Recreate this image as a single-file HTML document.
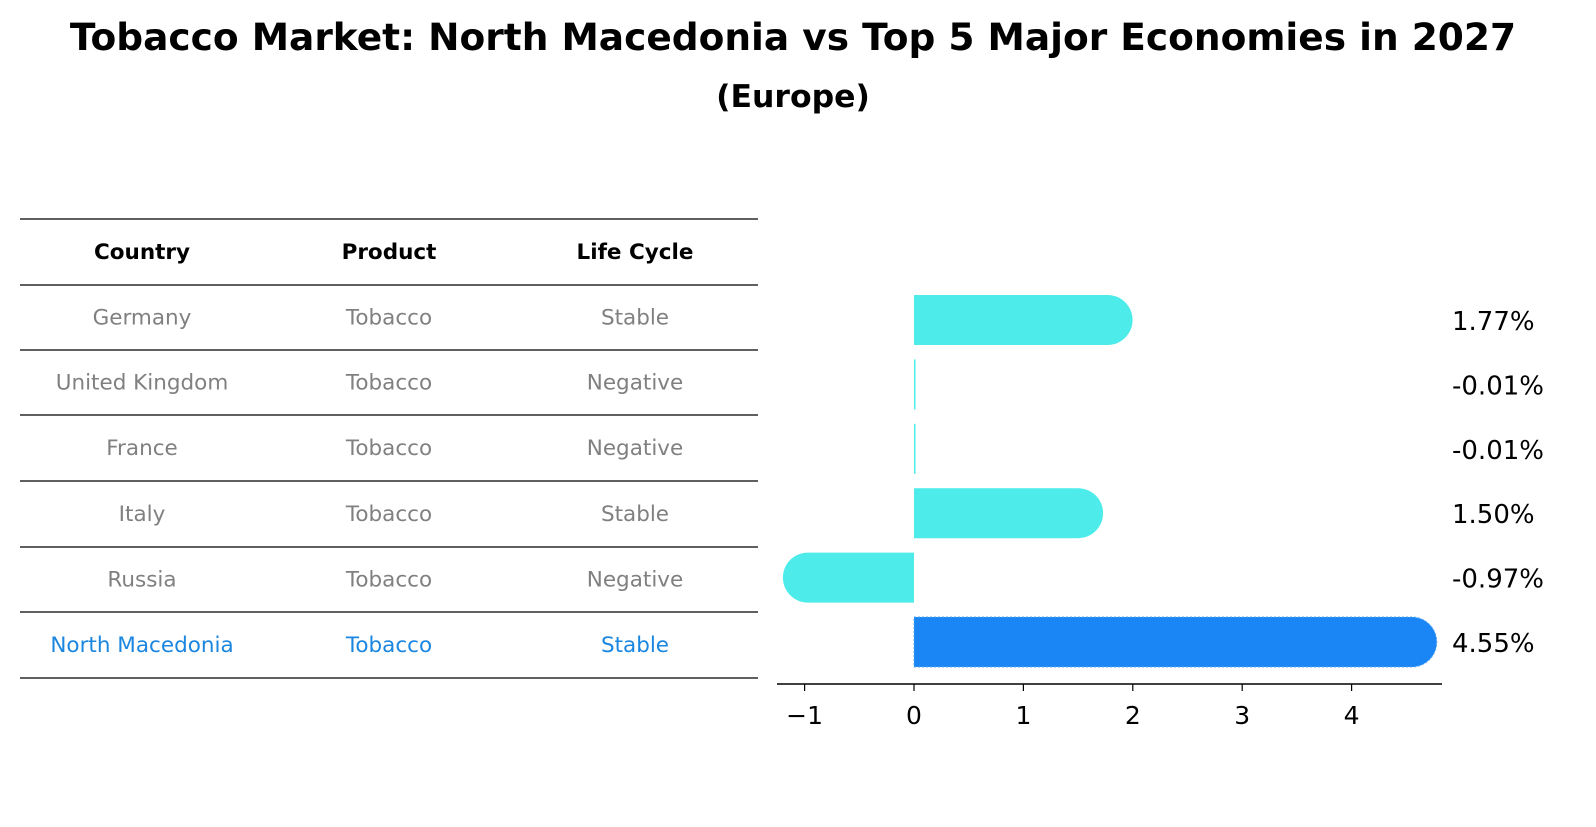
<!DOCTYPE html>
<html><head><meta charset="utf-8"><style>
body{margin:0;background:#fff;font-family:"DejaVu Sans","Liberation Sans",sans-serif}
</style></head><body>
<svg width="1596" height="823" xmlns="http://www.w3.org/2000/svg" font-family="DejaVu Sans, Liberation Sans, sans-serif">
<text x="793" y="50" text-anchor="middle" font-size="37.5" font-weight="bold">Tobacco Market: North Macedonia vs Top 5 Major Economies in 2027</text>
<text x="793" y="107" text-anchor="middle" font-size="31.5" font-weight="bold">(Europe)</text>
<g id="table"></g>
<g id="bars"></g>
</svg>
<script>
const countries=["Germany","United Kingdom","France","Italy","Russia","North Macedonia"];
const products=["Tobacco","Tobacco","Tobacco","Tobacco","Tobacco","Tobacco"];
const lifecycle=["Stable","Negative","Negative","Stable","Negative","Stable"];
const values=[1.77,-0.01,-0.01,1.50,-0.97,4.55];
const ticks=[-1,0,1,2,3,4];
const NS="http://www.w3.org/2000/svg";
function mk(t,a,p){const e=document.createElementNS(NS,t);for(const k in a)e.setAttribute(k,a[k]);p.appendChild(e);return e;}
const tbl=document.getElementById('table');
const lineYs=[219,285,350,415,481,547,612,678];
lineYs.forEach((y,i)=>{const l=mk('line',{x1:20,x2:758,y1:y,y2:y,stroke:'#000','stroke-width':1.2},tbl);

});
const colX=[142,389,635];
["Country","Product","Life Cycle"].forEach((h,i)=>{const t=mk('text',{x:colX[i],y:259,'text-anchor':'middle','font-size':21.5,'font-weight':'bold'},tbl);t.textContent=h;

});
countries.forEach((c,r)=>{const y=(lineYs[r+1]+lineYs[r+2])/2+7;const col=r===5?'#1a86e0':'#808080';
[c,products[r],lifecycle[r]].forEach((v,i)=>{const t=mk('text',{x:colX[i],y:y,'text-anchor':'middle','font-size':21.5,fill:col},tbl);t.textContent=v;

});});
const g=document.getElementById('bars');
const x0=914,unit=109.4;const xs=v=>x0+v*unit;
const rowY=r=>320+r*64.4;const h=50,rad=25;
values.forEach((v,r)=>{const cy=rowY(r);const top=cy-h/2;const xe=xs(v);const fill=r===5?'#1a86f5':'#4deceb';
let d;
if(Math.abs(v)<0.05){d=`M${x0} ${top} h1.5 v${h} h-1.5 Z`;}
else if(v>0){d=`M${x0} ${top} H${xe} A${rad} ${rad} 0 0 1 ${xe} ${top+h} H${x0} Z`;}
else{d=`M${x0} ${top} H${xe} A${rad} ${rad} 0 0 0 ${xe} ${top+h} H${x0} Z`;}
const p=mk('path',{d:d,fill:fill},g);
if(r===5){p.setAttribute('stroke','#5aa8f0');p.setAttribute('stroke-dasharray','2 2');p.setAttribute('stroke-width','1');}


const t=mk('text',{x:1452,y:cy+10,'font-size':26},g);t.textContent=v.toFixed(2)+'%';

});
const ax=mk('line',{x1:777,x2:1442,y1:684,y2:684,stroke:'#000','stroke-width':1.5},g);


ticks.forEach(v=>{const x=xs(v);const tk=mk('line',{x1:x,x2:x,y1:684,y2:691,stroke:'#000','stroke-width':1.2},g);


const t=mk('text',{x:x,y:724,'text-anchor':'middle','font-size':25},g);t.textContent=v<0?'\u2212'+Math.abs(v):String(v);

});
</script>
</body></html>
